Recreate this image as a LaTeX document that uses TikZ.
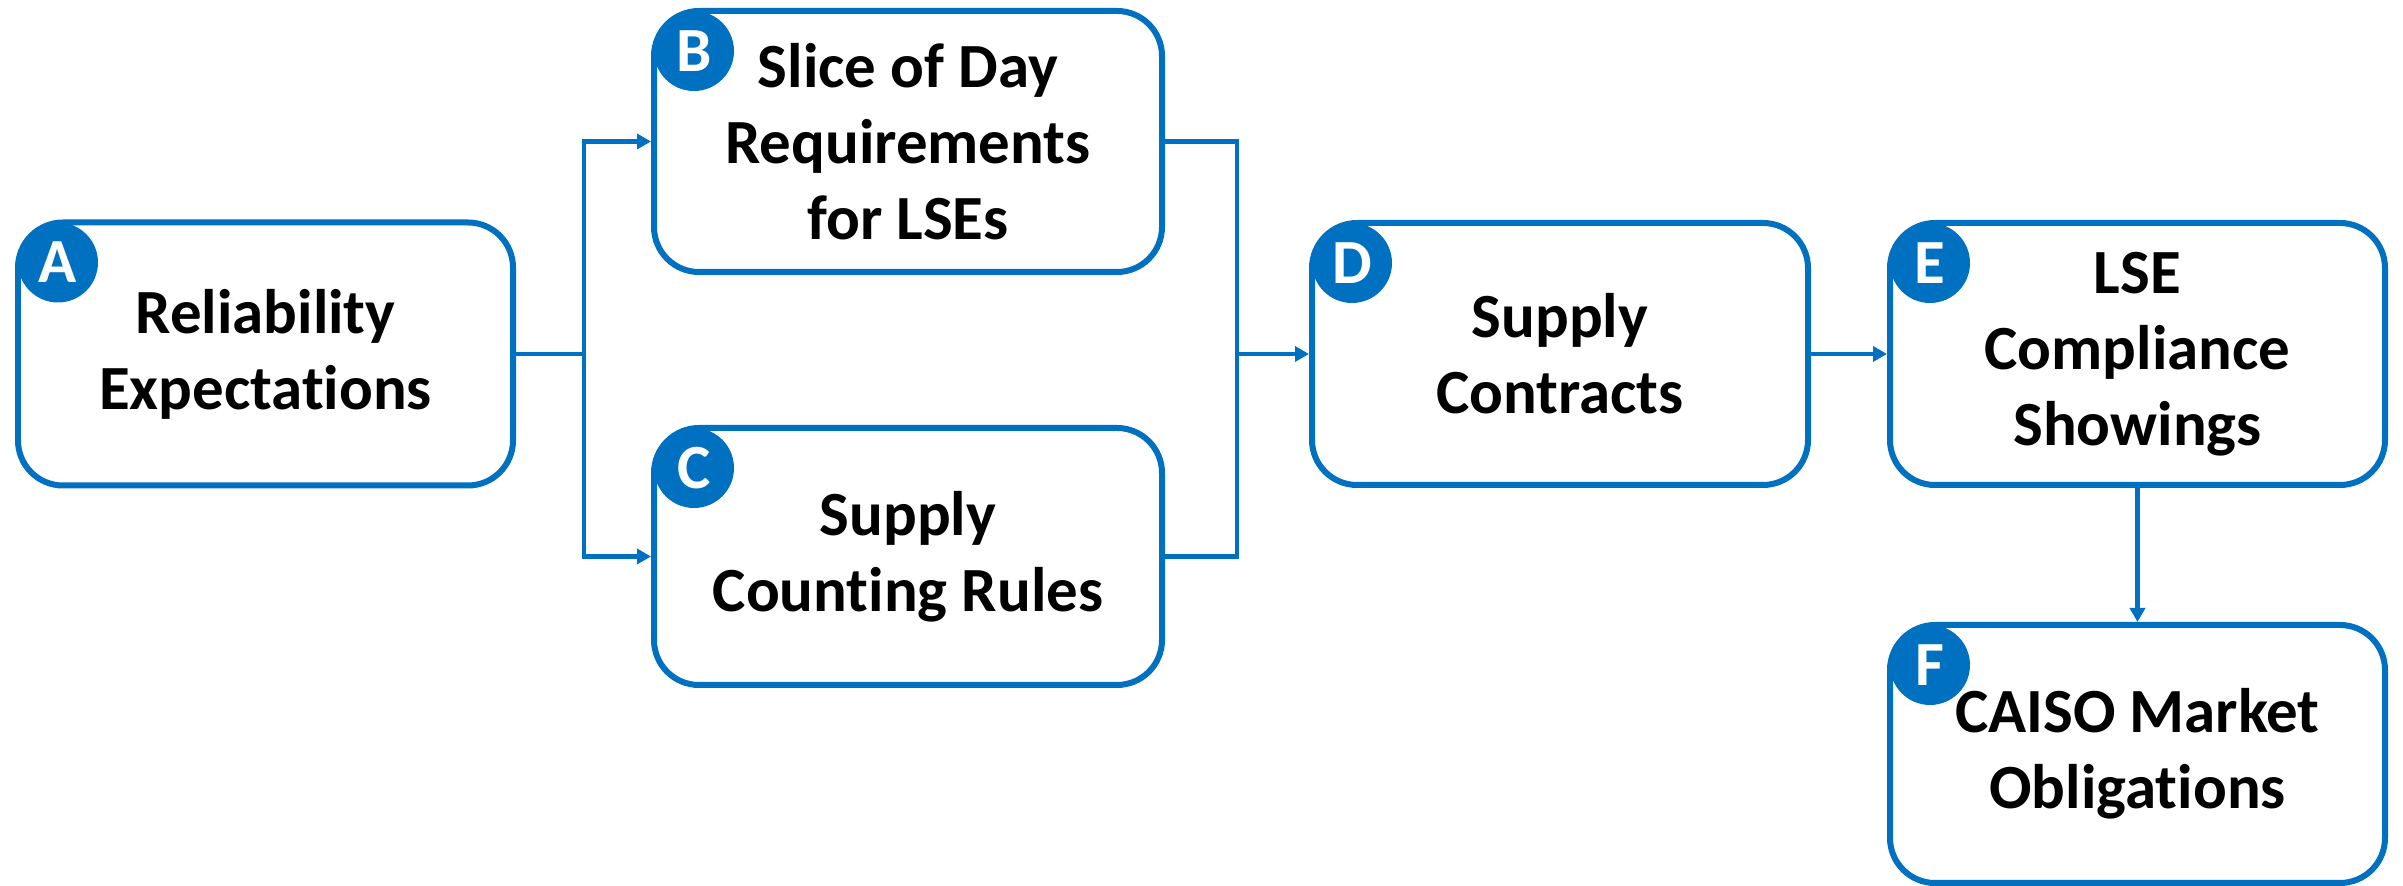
\documentclass[tikz,border=0pt]{standalone}
\usepackage{fontspec}
\setmainfont{Carlito}[Ligatures=NoCommon]
\usepackage{tikz}
\usetikzlibrary{arrows.meta}
\definecolor{my_blue}{RGB}{0,112,192}

\tikzset{
 stepbox/.style={draw=my_blue, line width=0.06cm, rounded corners=0.45cm, fill=white,
   align=center, inner sep=0pt, font=\bfseries\fontsize{17.9pt}{21.6pt}\selectfont},
 badge/.style={circle, fill=my_blue, minimum size=0.8cm, inner sep=0pt, text=white,
   font=\bfseries\fontsize{17.9pt}{21.6pt}\selectfont},
 link/.style={draw=my_blue, line width=0.045cm},
 arrowlink/.style={-{Triangle[length=0.14cm,width=0.15cm]}}
}

\begin{document}
\begin{tikzpicture}
\useasboundingbox (0,0) rectangle (24.03,8.86);

\node[stepbox, minimum width=4.95cm, minimum height=2.63cm] (A) at (2.655,5.32) {Reliability\\Expectations};
\node[stepbox, minimum width=5.08cm, minimum height=2.61cm] (B) at (9.08,7.445) {Slice of Day\\Requirements\\for LSEs};
\node[stepbox, minimum width=5.08cm, minimum height=2.57cm] (C) at (9.08,3.295) {Supply\\Counting Rules};
\node[stepbox, minimum width=4.96cm, minimum height=2.62cm] (D) at (15.60,5.32) {Supply\\Contracts};
\node[stepbox, minimum width=4.95cm, minimum height=2.62cm] (E) at (21.375,5.32) {LSE\\Compliance\\Showings};
\node[stepbox, minimum width=4.95cm, minimum height=2.58cm] (F) at (21.375,1.32) {CAISO Market\\Obligations};

\node[badge] (A_badge) at ([shift={(0.43,-0.43)}]A.north west) {A};
\node[badge] (B_badge) at ([shift={(0.43,-0.43)}]B.north west) {B};
\node[badge] (C_badge) at ([shift={(0.43,-0.43)}]C.north west) {C};
\node[badge] (D_badge) at ([shift={(0.43,-0.43)}]D.north west) {D};
\node[badge] (E_badge) at ([shift={(0.43,-0.43)}]E.north west) {E};
\node[badge] (F_badge) at ([shift={(0.43,-0.43)}]F.north west) {F};

\coordinate (split) at (5.84,5.32);
\coordinate (join) at (12.37,5.32);

\draw[link] (A.east) -- (split);
\draw[link, arrowlink] (split) |- (B.west);
\draw[link, arrowlink] (split) |- (C.west);
\draw[link] (B.east) -| (join);
\draw[link] (C.east) -| (join);
\draw[link, arrowlink] (join) -- (D.west);
\draw[link, arrowlink] (D.east) -- (E.west);
\draw[link, arrowlink] (E.south) -- (F.north);
\end{tikzpicture}
\end{document}
